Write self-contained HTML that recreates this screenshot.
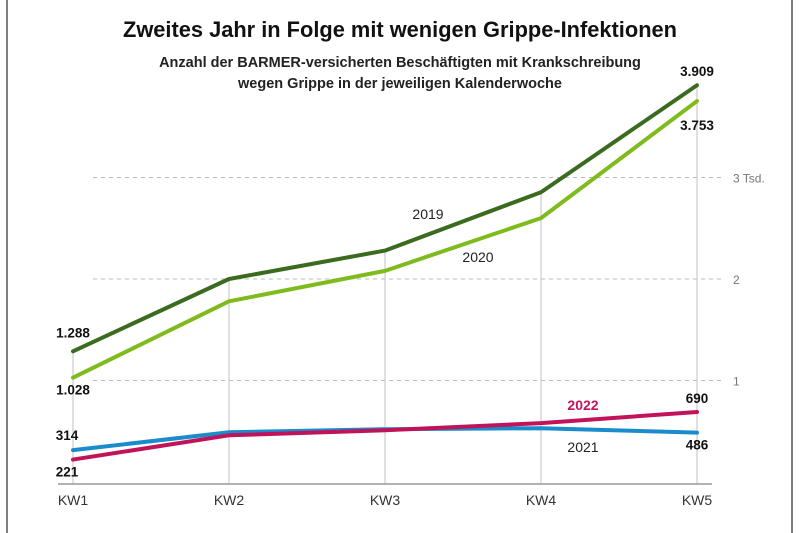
<!DOCTYPE html>
<html><head><meta charset="utf-8"><style>
html,body{margin:0;padding:0;background:#fff}
svg{display:block;font-family:"Liberation Sans",sans-serif}
</style></head><body>
<svg width="800" height="533" viewBox="0 0 800 533">
<rect x="7" y="-2" width="785" height="540" fill="#fff" stroke="#555" stroke-width="1.5"/>
<text x="400" y="37" text-anchor="middle" font-size="22" font-weight="bold" fill="#111" textLength="554" lengthAdjust="spacingAndGlyphs">Zweites Jahr in Folge mit wenigen Grippe-Infektionen</text>
<text x="400" y="67" text-anchor="middle" font-size="14.5" font-weight="bold" fill="#222">Anzahl der BARMER-versicherten Beschäftigten mit Krankschreibung</text>
<text x="400" y="88" text-anchor="middle" font-size="14.5" font-weight="bold" fill="#222">wegen Grippe in der jeweiligen Kalenderwoche</text>
<g id="grid"></g><g id="series"></g><g id="labels"></g>
</svg>
<script>
const categories=["KW1","KW2","KW3","KW4","KW5"];
const s2019=[1288,2000,2280,2855,3909];
const s2020=[1028,1780,2080,2600,3753];
const s2021=[314,490,520,530,486];
const s2022=[221,460,510,580,690];
const yTicks=[1000,2000,3000];
const yTickLabels=["1","2","3 Tsd."];
const NS="http://www.w3.org/2000/svg";
const x=i=>73+i*156;
const y=v=>482-v*0.1015;
function mk(tag,attrs,parent,txt){const e=document.createElementNS(NS,tag);for(const k in attrs)e.setAttribute(k,attrs[k]);if(txt!=null)e.textContent=txt;document.getElementById(parent).appendChild(e);return e;}
yTicks.forEach((t,i)=>{
 let l=mk("line",{x1:93,x2:723,y1:y(t),y2:y(t),stroke:"#bbb","stroke-dasharray":"4 4","stroke-width":1},"grid");
 
 
 let tx=mk("text",{x:733,y:y(t)+5,"font-size":12,fill:"#777"},"grid",yTickLabels[i]);
 
 
});
categories.forEach((c,i)=>{
 let top=Math.max(s2019[i],s2020[i]);
 let l=mk("line",{x1:x(i),x2:x(i),y1:y(top),y2:484,stroke:"#ccc","stroke-width":1.2},"grid");
 
 
 let tx=mk("text",{x:x(i),y:505,"text-anchor":"middle","font-size":14,fill:"#333"},"grid",c);
 
 
});
let ax=mk("line",{x1:58,x2:712,y1:484,y2:484,stroke:"#999","stroke-width":1.5},"grid");


function line(d,col,name){
 let p=mk("polyline",{points:d.map((v,i)=>x(i)+","+y(v)).join(" "),fill:"none",stroke:col,"stroke-width":4,"stroke-linejoin":"round","stroke-linecap":"round"},"series");
 
 
}
line(s2021,"#1a8ccc","line-2021");
line(s2022,"#c0135a","line-2022");
line(s2020,"#7fbb1d","line-2020");
line(s2019,"#3a6b1e","line-2019");
function lab(tx,xx,yy,name,col,anchor,bold,fs){
 let e=mk("text",{x:xx,y:yy,"font-size":fs||13.5,fill:col||"#111","text-anchor":anchor||"middle","font-weight":bold?"bold":"normal"},"labels",tx);
 
 
}
const fmt=v=>v>=1000?Math.floor(v/1000)+"."+String(v%1000).padStart(3,"0"):String(v);
lab(fmt(s2019[0]),x(0),y(s2019[0])-14,"value-2019-kw1","#111","middle",true);
lab(fmt(s2020[0]),x(0),y(s2020[0])+17,"value-2020-kw1","#111","middle",true);
lab(fmt(s2021[0]),x(0)-6,y(s2021[0])-10,"value-2021-kw1","#111","middle",true);
lab(fmt(s2022[0]),x(0)-6,y(s2022[0])+17,"value-2022-kw1","#111","middle",true);
lab(fmt(s2019[4]),x(4),y(s2019[4])-9,"value-2019-kw5","#111","middle",true);
lab(fmt(s2020[4]),x(4),y(s2020[4])+29,"value-2020-kw5","#111","middle",true);
lab(fmt(s2022[4]),x(4),y(s2022[4])-9,"value-2022-kw5","#111","middle",true);
lab(fmt(s2021[4]),x(4),y(s2021[4])+17,"value-2021-kw5","#111","middle",true);
lab("2019",428,219,"label-2019","#222","middle",false,14);
lab("2020",478,262,"label-2020","#222","middle",false,14);
lab("2022",583,410,"label-2022","#c0135a","middle",true,14);
lab("2021",583,452,"label-2021","#222","middle",false,14);
</script>
</body></html>
